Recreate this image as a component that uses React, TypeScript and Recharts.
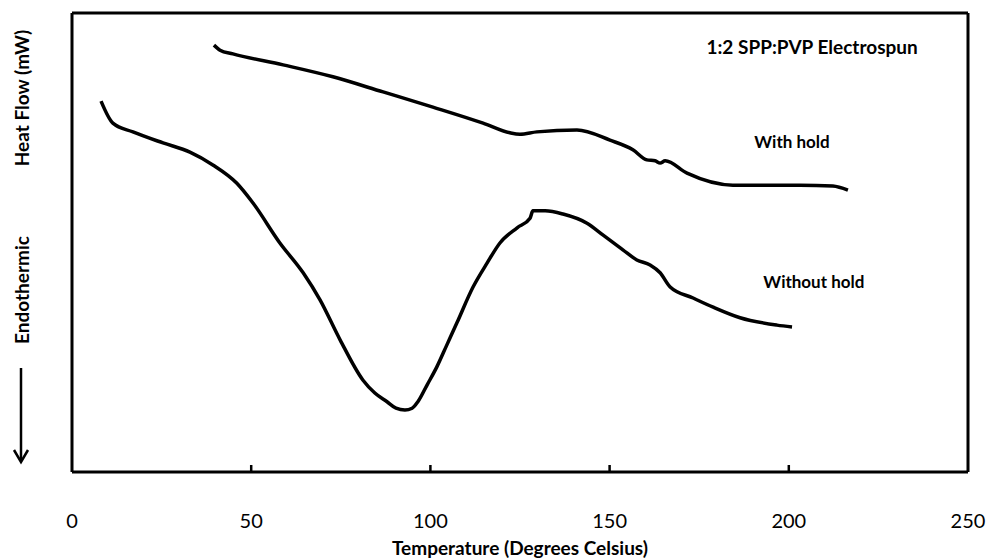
import { LineChart, Line, XAxis, YAxis, ReferenceDot } from 'recharts';

// DSC traces (heat flow in arbitrary units, 0-100)
const withoutHoldTemp = [8.1, 11.4, 17.0, 25.4, 32.9, 39.3, 46.0, 50.5, 58.0, 64.5, 69.2, 74.8, 81.2, 84.5, 87.9, 90.4, 92.9, 94.9, 96.5, 99.1, 101.8, 104.6, 107.4, 111.9, 115.8, 119.4, 124.2, 127.8, 128.6, 132.0, 137.0, 143.7, 148.2, 153.7, 157.6, 161.3, 164.1, 166.9, 173.3, 178.9, 186.4, 196.7, 200.9];
const withoutHoldFlow = [80.8, 76.0, 74.1, 71.7, 69.7, 66.9, 62.9, 58.6, 49.9, 43.4, 37.5, 28.8, 20.0, 17.2, 15.3, 13.9, 13.5, 13.9, 15.3, 19.0, 22.9, 27.7, 32.5, 40.3, 45.5, 49.9, 53.2, 55.3, 56.9, 56.9, 56.2, 54.2, 51.6, 48.4, 46.2, 45.1, 43.4, 40.3, 37.9, 35.9, 33.6, 32.0, 31.6];

const withHoldTemp = [39.6, 41.3, 44.9, 58.9, 72.8, 86.8, 100.7, 114.7, 122.2, 125.0, 129.7, 140.9, 150.1, 156.5, 160.4, 162.7, 164.1, 165.5, 171.6, 184.4, 203.1, 212.3, 216.5];
const withHoldFlow = [93.0, 91.9, 91.1, 88.7, 86.1, 82.8, 79.5, 76.0, 73.9, 73.6, 74.1, 74.5, 72.3, 70.2, 68.0, 67.8, 67.3, 67.8, 65.1, 62.5, 62.5, 62.3, 61.4];

const xTicks = [0, 50, 100, 150, 200, 250];

const withoutHold = withoutHoldTemp.map((t, i) => ({ t, flow: withoutHoldFlow[i] }));
const withHold = withHoldTemp.map((t, i) => ({ t, flow: withHoldFlow[i] }));

const font = 'Lato, "Open Sans", sans-serif';

function YTitle() {
    return (
        <g fill="#000" fontFamily={font} fontWeight="bold" fontSize={19}>
            <text transform="translate(21, 98) rotate(-90)" textAnchor="middle" dominantBaseline="central">
                Heat Flow (mW)
            </text>
            <text transform="translate(21, 290) rotate(-90)" textAnchor="middle" dominantBaseline="central">
                Endothermic
            </text>
            <line x1={21} y1={368} x2={21} y2={460} stroke="#000" strokeWidth={2.5} />
            <path d="M14,450 L21,462 L28,450" fill="none" stroke="#000" strokeWidth={2.5} />
        </g>
    );
}

// inward tick mark plus label below the axis
function BottomTick({ x, y, payload }: any) {
    return (
        <g>
            {payload.value > 0 && payload.value < 250 && (
                <line x1={x} y1={y} x2={x} y2={y - 7} stroke="#000" strokeWidth={2.5} />
            )}
            <text x={x} y={y + 48} textAnchor="middle" dominantBaseline="central" fill="#000" fontSize={20} fontFamily={font}>
                {payload.value}
            </text>
        </g>
    );
}

const noteLabel = (text: string, size: number) => ({ viewBox }: any) => (
    <text
        x={viewBox.x}
        y={viewBox.y}
        textAnchor="middle"
        dominantBaseline="central"
        fontFamily={font}
        fontWeight="bold"
        fontSize={size}
        fill="#000"
    >
        {text}
    </text>
);

export default function App() {
    return (
        <div style={{ position: 'absolute', left: 0, top: 0, width: 990, height: 558, background: '#fff' }}>
            <LineChart width={990} height={558} margin={{ top: 0, right: 0, bottom: 0, left: 0 }}>
                <XAxis
                    xAxisId="b"
                    dataKey="t"
                    type="number"
                    domain={[0, 250]}
                    ticks={xTicks}
                    height={86}
                    axisLine={{ stroke: '#000', strokeWidth: 3 }}
                    tickLine={false}
                    tickSize={0}
                    tickMargin={0}
                    tick={<BottomTick />}
                    label={{ value: 'Temperature (Degrees Celsius)', position: 'insideBottom', offset: 3, fill: '#000', fontSize: 19, fontWeight: 'bold', fontFamily: font }}
                />
                <XAxis
                    xAxisId="top"
                    orientation="top"
                    dataKey="t"
                    type="number"
                    domain={[0, 250]}
                    height={13}
                    tick={false}
                    tickLine={false}
                    axisLine={{ stroke: '#000', strokeWidth: 3 }}
                />
                <YAxis
                    yAxisId="l"
                    type="number"
                    domain={[0, 100]}
                    width={72}
                    tick={false}
                    tickLine={false}
                    axisLine={{ stroke: '#000', strokeWidth: 3 }}
                    label={<YTitle />}
                />
                <YAxis
                    yAxisId="r"
                    orientation="right"
                    type="number"
                    domain={[0, 100]}
                    width={22}
                    tick={false}
                    tickLine={false}
                    axisLine={{ stroke: '#000', strokeWidth: 3 }}
                />
                <Line
                    xAxisId="b"
                    yAxisId="l"
                    data={withHold}
                    dataKey="flow"
                    type="monotone"
                    stroke="#000"
                    strokeWidth={3.5}
                    dot={false}
                    isAnimationActive={false}
                />
                <Line
                    xAxisId="b"
                    yAxisId="l"
                    data={withoutHold}
                    dataKey="flow"
                    type="monotone"
                    stroke="#000"
                    strokeWidth={3.5}
                    dot={false}
                    isAnimationActive={false}
                />
                <ReferenceDot xAxisId="b" yAxisId="l" x={206.5} y={92.6} r={0} label={noteLabel('1:2 SPP:PVP Electrospun', 19)} />
                <ReferenceDot xAxisId="b" yAxisId="l" x={200.9} y={71.9} r={0} label={noteLabel('With hold', 17)} />
                <ReferenceDot xAxisId="b" yAxisId="l" x={207} y={41.4} r={0} label={noteLabel('Without hold', 17)} />
            </LineChart>
        </div>
    );
}
